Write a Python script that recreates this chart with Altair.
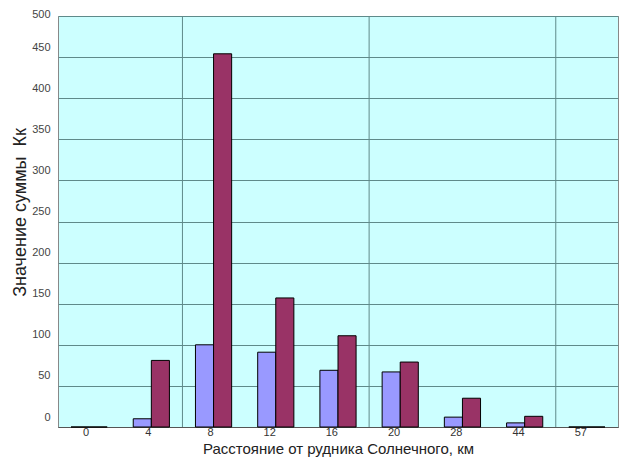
import altair as alt
import pandas as pd

categories = ["0", "4", "8", "12", "16", "20", "28", "44", "57"]
series_a = [0, 10, 100, 91, 69, 67, 12, 5, 0]
series_b = [0, 81, 454, 157, 111, 79, 35, 13, 0]
separators = ["4", "16", "44"]
y_ticks = list(range(0, 501, 50))

rows = []
for c, a, b in zip(categories, series_a, series_b):
    rows.append({"cat": c, "series": "a", "value": a})
    rows.append({"cat": c, "series": "b", "value": b})
df = pd.DataFrame(rows)
sep_df = pd.DataFrame({"cat": separators})

FONT = "Liberation Sans"

x_enc = alt.X(
    "cat:N",
    sort=categories,
    scale=alt.Scale(paddingInner=0, paddingOuter=0),
    axis=alt.Axis(
        title="Расстояние от рудника Солнечного, км",
        labelAngle=0,
        labelFont=FONT,
        labelFontSize=11,
        labelColor="#333333",
        labelPadding=5,
        ticks=False,
        domainColor="#555555",
        titleFont=FONT,
        titleFontSize=15,
        titleFontWeight="normal",
        titleColor="#222222",
        titlePadding=4,
    ),
)

bars = alt.Chart(df).mark_bar(stroke="black", strokeWidth=1).encode(
    x=x_enc,
    xOffset=alt.XOffset("series:N", scale=alt.Scale(paddingInner=0, paddingOuter=0.72)),
    y=alt.Y(
        "value:Q",
        scale=alt.Scale(domain=[0, 500], nice=False),
        axis=alt.Axis(
            title="Значение суммы \u00a0Кк",
            values=y_ticks,
            labelFont=FONT,
            labelFontSize=11,
            labelColor="#444444",
            labelOffset=alt.expr("datum.value == 500 ? -2 : -10"),
            labelPadding=8,
            ticks=False,
            domain=False,
            grid=True,
            gridColor="#5f8a8a",
            gridWidth=1,
            titleFont=FONT,
            titleFontSize=18,
            titleFontWeight="normal",
            titleColor="#222222",
            titleX=-29,
            titleY=196,
        ),
    ),
    color=alt.Color(
        "series:N",
        scale=alt.Scale(domain=["a", "b"], range=["#9999ff", "#993366"]),
        legend=None,
    ),
)

seps = alt.Chart(sep_df).mark_rule(color="#5f8a8a", strokeWidth=1).encode(
    x=alt.X("cat:N", sort=categories, bandPosition=1),
)

chart = (
    alt.layer(seps, bars)
    .properties(
        width=560,
        height=411,
        autosize=alt.AutoSizeParams(type="none"),
        padding={"left": 50, "top": 8, "right": 2, "bottom": 36},
    )
    .configure_view(fill="#ccffff", stroke="#888888")
)

chart.save("out.html", embed_options={"renderer": "svg", "actions": False})
